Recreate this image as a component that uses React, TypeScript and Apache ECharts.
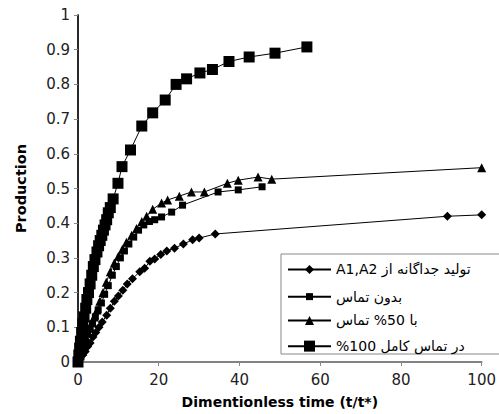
import React, { useEffect, useRef } from "react";
import * as echarts from "echarts";

const xTicks = { min: 0, max: 100, interval: 20 };
const yTicks = { min: 0, max: 1, interval: 0.1 };

const names = [
  "تولید جداگانه از A1,A2",
  "بدون تماس",
  "با 50% تماس",
  "در تماس کامل 100%",
];

// series 1: diamonds
const sepT = [0, 0.5, 1.2, 1.8, 2.4, 3.0, 3.7, 4.4, 5.2, 6.0, 7.1, 8.0, 9.0, 10.0, 11.1, 12.2, 13.5, 15.3, 16.5, 17.8, 19.0, 20.5, 22.0, 23.9, 26.1, 28.4, 30.0, 34.0, 91.5, 100];
const sepP = [0, 0.01, 0.02, 0.03, 0.045, 0.055, 0.072, 0.085, 0.1, 0.115, 0.135, 0.155, 0.175, 0.19, 0.207, 0.225, 0.24, 0.26, 0.27, 0.29, 0.297, 0.31, 0.32, 0.328, 0.34, 0.352, 0.357, 0.369, 0.42, 0.424];

// series 2: small squares
const noT = [0, 0.6, 1.2, 1.8, 2.4, 3.0, 3.6, 4.3, 5.0, 5.8, 6.6, 7.5, 8.5, 9.5, 10.5, 11.5, 12.6, 13.8, 15.0, 16.3, 17.7, 19.0, 20.7, 23.2, 25.9, 34.7, 39.7, 45.6];
const noP = [0, 0.02, 0.04, 0.06, 0.08, 0.095, 0.11, 0.13, 0.15, 0.17, 0.195, 0.22, 0.25, 0.275, 0.3, 0.32, 0.34, 0.36, 0.38, 0.395, 0.405, 0.41, 0.418, 0.432, 0.452, 0.49, 0.496, 0.505];

// series 3: triangles
const halfT = [0, 0.5, 1.0, 1.5, 2.0, 2.5, 3.0, 3.5, 4.0, 4.7, 5.4, 6.2, 7.0, 8.0, 9.0, 10.0, 11.0, 12.0, 13.3, 14.5, 15.8, 17.0, 18.5, 20.7, 22.2, 25.1, 28.1, 31.3, 37.0, 39.7, 44.6, 48.0, 100];
const halfP = [0, 0.02, 0.04, 0.055, 0.07, 0.085, 0.1, 0.115, 0.13, 0.15, 0.175, 0.2, 0.23, 0.26, 0.285, 0.305, 0.325, 0.345, 0.365, 0.385, 0.405, 0.42, 0.44, 0.458, 0.467, 0.478, 0.49, 0.49, 0.515, 0.524, 0.533, 0.527, 0.56];

// series 4: big squares
const fullT = [0, 0.2, 0.4, 0.6, 0.9, 1.2, 1.5, 1.9, 2.2, 2.6, 3.0, 3.4, 3.8, 4.2, 4.7, 5.1, 5.5, 5.9, 6.3, 6.7, 7.1, 7.5, 8.0, 8.7, 9.9, 10.9, 13.0, 15.8, 18.5, 21.6, 24.3, 26.9, 30.2, 33.3, 37.4, 42.4, 48.8, 56.7];
const fullP = [0, 0.02, 0.04, 0.06, 0.085, 0.11, 0.13, 0.155, 0.18, 0.2, 0.225, 0.25, 0.275, 0.295, 0.317, 0.335, 0.35, 0.365, 0.38, 0.395, 0.41, 0.43, 0.445, 0.47, 0.515, 0.563, 0.611, 0.68, 0.718, 0.755, 0.8, 0.816, 0.833, 0.843, 0.866, 0.879, 0.89, 0.908];

const zip = (a: number[], b: number[]) => a.map((v, i) => [v, b[i]]);

const FONT = "DejaVu Sans";

export default function App() {
  const ref = useRef<HTMLDivElement>(null);
  useEffect(() => {
    document.body.style.margin = "0";
    if (!ref.current) return;
    const chart = echarts.init(ref.current, null, { renderer: "svg" });
    const symbols = ["diamond", "rect", "triangle", "rect"];
    const sizes = [9, 7, 9, 11];
    const datas = [zip(sepT, sepP), zip(noT, noP), zip(halfT, halfP), zip(fullT, fullP)];
    const rowY = [268, 294, 319, 346];
    const series = names.map((n, i) => ({
      name: n,
      type: "line",
      data: datas[i],
      symbol: symbols[i],
      symbolSize: sizes[i],
      showSymbol: true,
      lineStyle: { color: "#000", width: 1 },
      itemStyle: { color: "#000" },
      z: 3 + i,
    }));
    const legends = names.map((n, i) => {
      const ih = sizes[i] / 0.8;
      return {
        data: [n],
        left: 287,
        top: rowY[i] - ih / 2,
        itemWidth: 43,
        itemHeight: ih,
        padding: 0,
        selectedMode: false,
        formatter: (name: string) => "\u202B" + name + "\u202C",
        textStyle: { fontFamily: FONT, fontSize: 14, color: "#000" },
      };
    });
    chart.setOption({
      animation: false,
      backgroundColor: "#fff",
      grid: { left: 78, right: 15, top: 15, bottom: 52 },
      legend: legends,
      xAxis: [
        {
          type: "value",
          ...xTicks,
          name: "Dimentionless time (t/t*)",
          nameLocation: "middle",
          nameGap: 33,
          nameTextStyle: { fontFamily: FONT, fontSize: 14, fontWeight: "bold", color: "#000" },
          axisLine: { show: true, lineStyle: { color: "#888", width: 1.5 } },
          axisTick: { show: true, length: 4, lineStyle: { color: "#888" } },
          axisLabel: { fontFamily: FONT, fontSize: 15, color: "#222", margin: 10 },
          splitLine: { show: false },
        },
        {
          type: "value",
          ...xTicks,
          position: "top",
          axisLine: { show: true, lineStyle: { color: "#777", width: 1.5 } },
          axisTick: { show: false },
          axisLabel: { show: false },
          splitLine: { show: false },
        },
      ],
      yAxis: [
        {
          type: "value",
          ...yTicks,
          name: "Production",
          nameLocation: "middle",
          nameGap: 50,
          nameTextStyle: { fontFamily: FONT, fontSize: 14.5, fontWeight: "bold", color: "#000" },
          axisLine: { show: true, lineStyle: { color: "#888", width: 1.5 } },
          axisTick: { show: true, length: 4, lineStyle: { color: "#888" } },
          axisLabel: { fontFamily: FONT, fontSize: 15, color: "#222", margin: 8 },
          splitLine: { show: false },
        },
        {
          type: "value",
          ...yTicks,
          position: "right",
          axisLine: { show: true, lineStyle: { color: "#000", width: 1.5 } },
          axisTick: { show: false },
          axisLabel: { show: false },
          splitLine: { show: false },
        },
      ],
      graphic: [
        {
          type: "rect",
          shape: { x: 281, y: 254, width: 230, height: 100 },
          style: { fill: "none", stroke: "#888", lineWidth: 1 },
          z: 1,
        },
      ],
      series,
    });
    return () => chart.dispose();
  }, []);
  return <div ref={ref} style={{ width: 499, height: 414 }} />;
}
